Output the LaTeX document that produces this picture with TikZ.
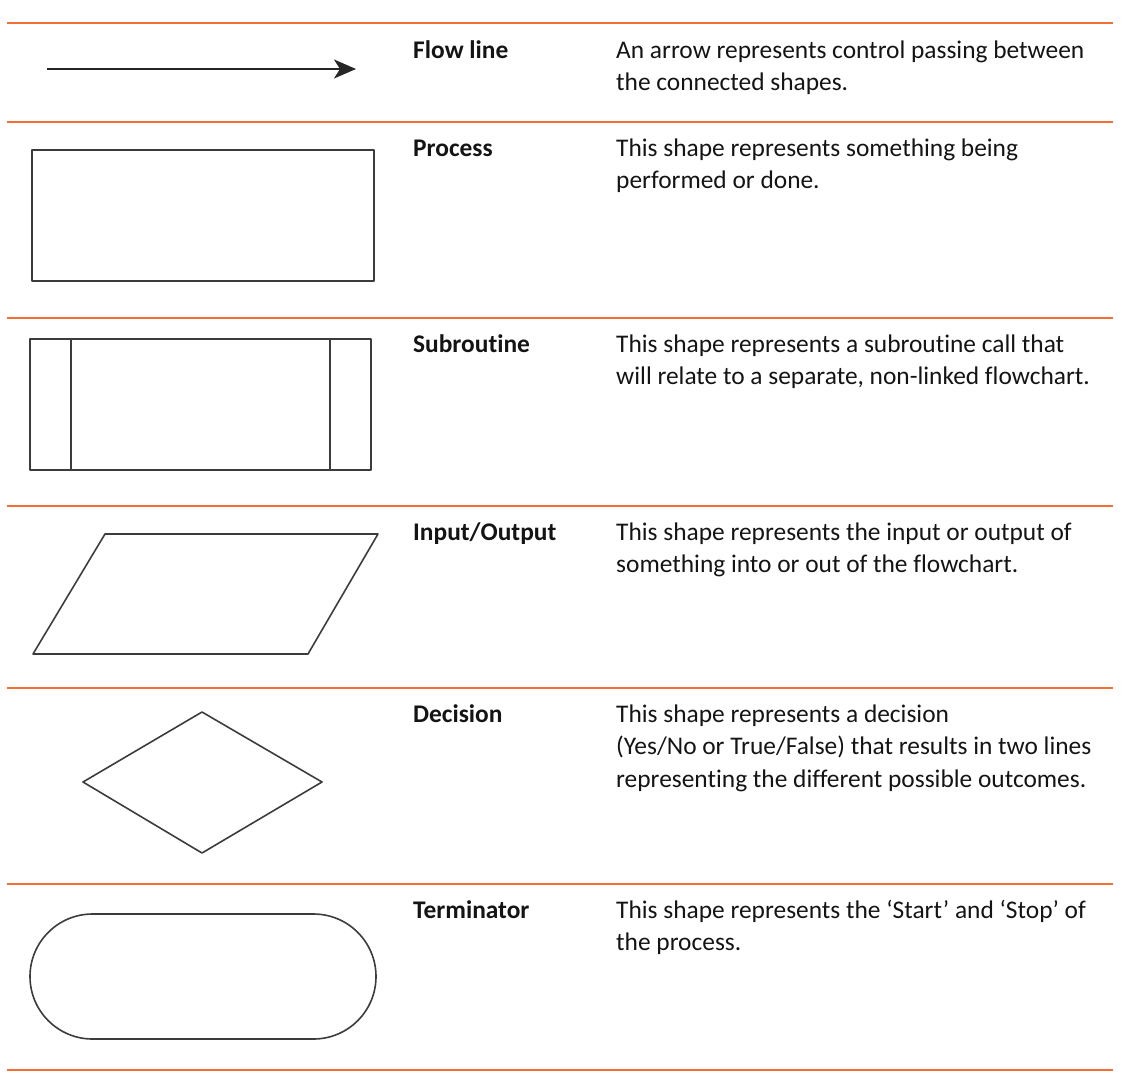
\documentclass[tikz,border=0pt]{standalone}
\usepackage{fontspec}
\setmainfont[Ligatures={NoCommon}]{Carlito}
\usetikzlibrary{arrows.meta}
\definecolor{rule}{RGB}{243,112,52}
\definecolor{shape}{RGB}{60,60,60}
\definecolor{ink}{RGB}{20,20,20}
\tikzset{
  sep/.style={draw=rule, line width=1.1pt},
  shp/.style={draw=shape, line width=1.6pt, line join=round},
  lbl/.style={anchor=base west, inner sep=0pt, font=\fontsize{25.4}{32.5}\selectfont\bfseries, text=ink},
  desc/.style={anchor=base west, inner sep=0pt, align=left, font=\fontsize{25.4}{32.5}\selectfont, text=ink}
}
\begin{document}
\begin{tikzpicture}[x=1pt,y=-1pt]
\useasboundingbox (0,0) rectangle (1138,1084);
% separators
\foreach \yy/\nm in {23/s0,122/s1,318/s2,506/s3,688/s4,884/s5,1070/s6}{
  \coordinate (\nm a) at (7,\yy); \coordinate (\nm b) at (1113,\yy);
  \draw[sep] (\nm a) -- (\nm b);
}
% flow line
\coordinate (fa) at (47,69); \coordinate (fb) at (356,69);
\draw[draw=black!85, line width=2pt, -{Stealth[length=22pt,width=19pt,inset=6pt]}] (fa) -- (fb);
% process
\draw[shp] (32,150) rectangle (374,281);
% subroutine
\draw[shp] (30,339) rectangle (371,470);
\draw[shp] (71,339) -- (71,470);
\draw[shp] (330,339) -- (330,470);
% input/output
\draw[shp] (105,534) -- (378,534) -- (308,654) -- (33,654) -- cycle;
% decision
\draw[shp] (202,712) -- (322,782) -- (202,853) -- (83,782) -- cycle;
% terminator
\draw[shp, rounded corners=62.5pt] (30,914) rectangle (376,1039);
% labels
\node[lbl] (l1) at (413,58) {Flow line};
\node[lbl] (l2) at (413,156) {Process};
\node[lbl] (l3) at (413,352) {Subroutine};
\node[lbl] (l4) at (413,540) {Input/Output};
\node[lbl] (l5) at (413,722) {Decision};
\node[lbl] (l6) at (413,918) {Terminator};
% descriptions (anchored at the baseline of their last line)
\node[desc] (d1) at (616,90.5) {An arrow represents control passing between\\the connected shapes.};
\node[desc] (d2) at (616,188.5) {This shape represents something being\\performed or done.};
\node[desc] (d3) at (616,384.5) {This shape represents a subroutine call that\\will relate to a separate, non-linked flowchart.};
\node[desc] (d4) at (616,572.5) {This shape represents the input or output of\\something into or out of the flowchart.};
\node[desc] (d5) at (616,787) {This shape represents a decision\\(Yes/No or True/False) that results in two lines\\representing the different possible outcomes.};
\node[desc] (d6) at (616,950.5) {This shape represents the ‘Start’ and ‘Stop’ of\\the process.};
\end{tikzpicture}
\end{document}
